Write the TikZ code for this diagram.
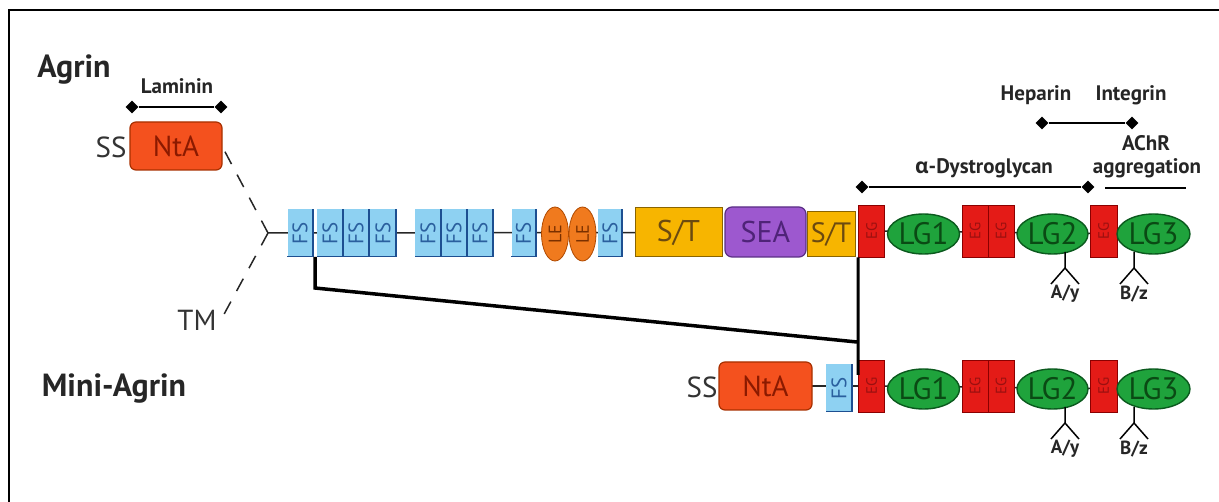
\documentclass[tikz,border=0pt]{standalone}
\usepackage{fontspec}
\setmainfont{PT Sans}
\newfontfamily\grkfont{Open Sans}
\usetikzlibrary{shapes.geometric,backgrounds}
\definecolor{fsblue}{HTML}{8ED1F2}
\definecolor{fsedge}{HTML}{1D4F91}
\definecolor{fstext}{HTML}{2A5F9E}
\definecolor{ntafill}{HTML}{F4511E}
\definecolor{ntaedge}{HTML}{A83000}
\definecolor{ntatext}{HTML}{8B1A00}
\definecolor{stfill}{HTML}{F7B500}
\definecolor{stedge}{HTML}{8A6400}
\definecolor{sttext}{HTML}{6B4A10}
\definecolor{seafill}{HTML}{9D58CF}
\definecolor{seaedge}{HTML}{5A2E85}
\definecolor{seatext}{HTML}{4F2378}
\definecolor{egfill}{HTML}{E41B17}
\definecolor{egedge}{HTML}{8B0000}
\definecolor{egtext}{HTML}{9A1010}
\definecolor{lgfill}{HTML}{1FA33C}
\definecolor{lgedge}{HTML}{0B5A1E}
\definecolor{lgtext}{HTML}{0A4A14}
\definecolor{lefill}{HTML}{F07A1E}
\definecolor{leedge}{HTML}{B04A00}
\definecolor{letext}{HTML}{7A3000}
\definecolor{inkgrey}{HTML}{333333}
\tikzset{
  title/.style={font=\fontsize{32}{34}\selectfont\bfseries, text=black!85},
  smalllbl/.style={font=\fontsize{21}{23}\selectfont\bfseries, text=black!85},
  domtxt/.style={font=\fontsize{29}{30}\selectfont, text=inkgrey},
  dia/.style={diamond, fill=black, inner sep=0, minimum width=13, minimum height=13},
  bar/.style={line width=2},
  fsbox/.style={rectangle, fill=fsblue, inner sep=0, minimum width=25, minimum height=47, font=\fontsize{21}{21}\selectfont, text=fstext},
  fsline/.style={draw=fsedge, line width=1.6},
  lebox/.style={ellipse, fill=lefill, draw=leedge, line width=0.8, inner sep=0, minimum width=27, minimum height=54, font=\fontsize{18}{18}\selectfont, text=letext},
  ntabox/.style={rectangle, rounded corners=6, fill=ntafill, draw=ntaedge, line width=1.2, inner sep=0, minimum width=92, minimum height=48, font=\fontsize{29}{30}\selectfont, text=ntatext},
  stbox/.style={rectangle, fill=stfill, draw=stedge, line width=1, inner sep=0, font=\fontsize{30}{30}\selectfont, text=sttext},
  seabox/.style={rectangle, rounded corners=7, fill=seafill, draw=seaedge, line width=1.2, inner sep=0, minimum width=81, minimum height=50, font=\fontsize{30}{30}\selectfont, text=seatext},
  egbox/.style={rectangle, fill=egfill, draw=egedge, line width=0.8, inner sep=0, minimum width=26, minimum height=52, font=\fontsize{15}{15}\selectfont, text=egtext},
  lgbox/.style={ellipse, fill=lgfill, draw=lgedge, line width=1.4, inner sep=0, minimum width=72, minimum height=40, font=\fontsize{31}{31}\selectfont, text=lgtext},
  backbone/.style={line width=1.5, draw=black!85},
  dashline/.style={line width=1.5, draw=black!85, dash pattern=on 14 off 12},
  forkline/.style={line width=1.5},
  forklbl/.style={font=\fontsize{19}{20}\selectfont\bfseries, text=black!85},
  thickconn/.style={line width=3.5, line join=miter},
  vconn/.style={line width=3},
  frameline/.style={line width=2.2}
}
\newcommand\agrinchain[2]{%
  \node[egbox] (#1eg1) at (871.5,#2-2) {\rotatebox{90}{EG}};
  \node[lgbox] (#1lg1) at (923.5,#2+1) {LG1};
  \node[egbox] (#1eg2) at (975,#2-2) {\rotatebox{90}{EG}};
  \node[egbox] (#1eg3) at (1001,#2-2) {\rotatebox{90}{EG}};
  \node[lgbox, minimum width=71] (#1lg2) at (1052.5,#2+1) {LG2};
  \node[egbox, minimum width=27] (#1eg4) at (1103.5,#2-2) {\rotatebox{90}{EG}};
  \node[lgbox, minimum width=73] (#1lg3) at (1153.5,#2+1) {LG3};
  \begin{pgfonlayer}{background}
    \draw[backbone] (#1eg1.center) -- (#1lg3.center);
  \end{pgfonlayer}
  \coordinate (#1a0) at (1065,#2+19);
  \coordinate (#1a1) at (1065,#2+35);
  \coordinate (#1a2) at (1051,#2+51);
  \coordinate (#1a3) at (1079,#2+51);
  \draw[forkline] (#1a0) -- (#1a1) -- (#1a2);
  \draw[forkline] (#1a1) -- (#1a3);
  \node[forklbl] (#1alab) at (1065,#2+61) {A/y};
  \coordinate (#1b0) at (1134,#2+19);
  \coordinate (#1b1) at (1134,#2+35);
  \coordinate (#1b2) at (1120,#2+51);
  \coordinate (#1b3) at (1148,#2+51);
  \draw[forkline] (#1b0) -- (#1b1) -- (#1b2);
  \draw[forkline] (#1b1) -- (#1b3);
  \node[forklbl] (#1blab) at (1134,#2+61) {B/z};
}
\begin{document}
\begin{tikzpicture}[x=1pt,y=-1pt]
\useasboundingbox (0,0) rectangle (1219,502);
% frame
\coordinate (fr0) at (9,502);
\coordinate (fr1) at (9,10);
\coordinate (fr2) at (1219,10);
\draw[frameline] (fr0) -- (fr1) -- (fr2);

% titles
\node[title] (agrin) at (74,70) {Agrin};
\node[title] (mini) at (114,389) {Mini-Agrin};

% Laminin
\node[smalllbl] (lam) at (177,86) {Laminin};
\node[dia] (l1) at (132,107) {};
\node[dia] (l2) at (221,107) {};
\draw[bar] (l1) -- (l2);

% top NtA
\node[domtxt] (ss) at (111,147) {SS};
\node[ntabox] (nta) at (176,146) {NtA};
\node[domtxt] (tm) at (197,320) {TM};

% Y junction and dashed lines
\coordinate (Y) at (268,233);
\coordinate (dstart) at (223,148);
\coordinate (dend) at (222,318);
\draw[dashline] (Y) -- (dstart);
\draw[dashline] (Y) -- (dend);

% FS / LE row
\node[fsbox] (f1) at (300,233) {\rotatebox{90}{FS}};
\node[fsbox, minimum width=26] (f2) at (330,233) {\rotatebox{90}{FS}};
\node[fsbox, minimum width=26] (f3) at (356,233) {\rotatebox{90}{FS}};
\node[fsbox, minimum width=26] (f4) at (383,233) {\rotatebox{90}{FS}};
\node[fsbox, minimum width=26] (f5) at (428,233) {\rotatebox{90}{FS}};
\node[fsbox, minimum width=26] (f6) at (454,233) {\rotatebox{90}{FS}};
\node[fsbox, minimum width=26] (f7) at (480,233) {\rotatebox{90}{FS}};
\node[fsbox, minimum width=24] (f8) at (523.5,233) {\rotatebox{90}{FS}};
\node[lebox] (le1) at (555,234) {\rotatebox{90}{LE}};
\node[lebox] (le2) at (582.5,234) {\rotatebox{90}{LE}};
\node[fsbox, minimum width=24] (f9) at (610,233) {\rotatebox{90}{FS}};
\foreach \n in {f1,f2,f3,f4,f5,f6,f7,f8,f9}
  \draw[fsline] (\n.north east) -- (\n.south east) -- (\n.south west);

\node[stbox, minimum width=87, minimum height=49] (st1) at (678.5,232.5) {S/T};
\node[seabox] (sea) at (765.5,232) {SEA};
\node[stbox, minimum width=48, minimum height=45, font=\fontsize{28}{28}\selectfont] (st2) at (831,234.5) {S/T};

\begin{pgfonlayer}{background}
  \draw[backbone] (Y) -- (st1.center);
\end{pgfonlayer}

\agrinchain{t}{233}

% binding site bars
\node[smalllbl] (hep) at (1036,95) {Heparin};
\node[smalllbl] (integ) at (1131,95) {Integrin};
\node[dia] (h1) at (1042,123) {};
\node[dia] (h2) at (1132,123) {};
\draw[bar] (h1) -- (h2);

\node[smalllbl] (dg) at (984,168) {{\grkfont\bfseries α}-Dystroglycan};
\node[dia] (d1) at (862,187) {};
\node[dia] (d2) at (1088,187) {};
\draw[bar] (d1) -- (d2);

\node[smalllbl] (achr) at (1146,143) {AChR};
\node[smalllbl] (aggr) at (1147,168) {aggregation};
\coordinate (u1) at (1105,188);
\coordinate (u2) at (1186,188);
\draw[bar] (u1) -- (u2);

% mini-agrin row
\node[domtxt] (mss) at (702,387) {SS};
\node[ntabox, minimum width=93] (mnta) at (765.5,386) {NtA};
\node[fsbox, minimum width=26] (mf) at (839,388) {\rotatebox{90}{FS}};
\draw[fsline] (mf.north east) -- (mf.south east) -- (mf.south west);
\agrinchain{m}{388}
\begin{pgfonlayer}{background}
  \draw[backbone] (mnta.center) -- (meg1.center);
\end{pgfonlayer}

% connectors between the two forms
\coordinate (k0) at (315,257);
\coordinate (k1) at (315,288);
\coordinate (k2) at (857,342);
\draw[thickconn] (k0) -- (k1) -- (k2);
\coordinate (k3) at (858,375);
\draw[vconn] (teg1.south west) -- (k3);
\end{tikzpicture}
\end{document}
